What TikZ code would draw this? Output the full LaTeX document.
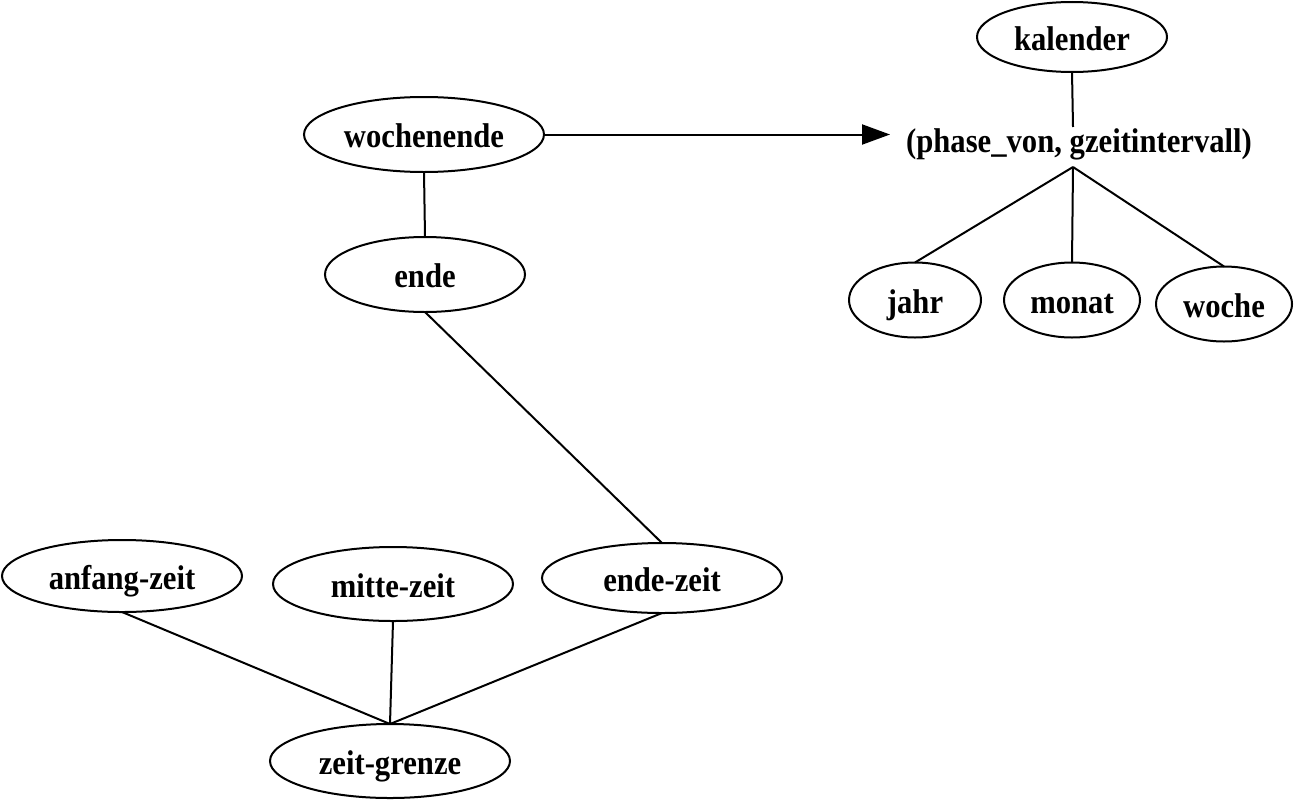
\documentclass[tikz,border=0pt]{standalone}
\usepackage{fontspec}
\setmainfont{Liberation Serif}
\usetikzlibrary{shapes.geometric,arrows.meta}
\newcommand\tall[1]{\scalebox{1}[1.12]{#1}}
\tikzset{
  lbl/.style={font=\bfseries\fontsize{23}{27}\selectfont, inner sep=0pt, outer sep=0pt,
              text height=21pt, text depth=1pt},
  ov/.style 2 args={lbl, ellipse, draw, line width=1.5pt,
              minimum width={2*#1*0.75pt}, minimum height={2*#2*0.75pt}},
  edge/.style={line width=1.5pt},
  arr/.style={edge, -{Triangle[length=21pt,width=15pt]}}
}
\begin{document}
\begin{tikzpicture}[x=0.75pt, y=-0.75pt]
  \useasboundingbox (0,0) rectangle (1294,803);

  % upper left chain
  \node[ov={120}{37.5}] (woch) at (424,134.5) {\tall{wochenende}};
  \node[ov={100}{37.5}] (ende) at (425,274.5) {\tall{ende}};

  % calendar group
  \node[ov={95}{35}] (kal) at (1072,37) {\tall{kalender}};
  \node[lbl] (phase) at (1079,139) {\tall{(phase\_von, gzeitintervall)}};
  \coordinate (phtop) at (1073,127);
  \coordinate (phbot) at (1073,167);
  \node[ov={66}{37.5}] (jahr) at (915,300) {\tall{jahr}};
  \node[ov={68}{37.5}] (monat) at (1072,300) {\tall{monat}};
  \node[ov={68}{37.5}] (woche) at (1224,304) {\tall{woche}};

  % time boundary group
  \node[ov={120}{36}] (anf) at (122,576) {\tall{anfang-zeit}};
  \node[ov={120}{37}] (mit) at (393,584) {\tall{mitte-zeit}};
  \node[ov={120}{35}] (endz) at (662,578) {\tall{ende-zeit}};
  \node[ov={120}{37}] (zg) at (390,761) {\tall{zeit-grenze}};

  % connectors
  \draw[arr] (woch.east) -- (woch.east -| 890,0);
  \draw[edge] (woch.south) -- (ende.north);
  \draw[edge] (ende.south) -- (endz.north);
  \draw[edge] (kal.south) -- (phtop);
  \draw[edge] (phbot) -- (jahr.north);
  \draw[edge] (phbot) -- (monat.north);
  \draw[edge] (phbot) -- (woche.north);
  \draw[edge] (anf.south) -- (zg.north);
  \draw[edge] (mit.south) -- (zg.north);
  \draw[edge] (endz.south) -- (zg.north);
\end{tikzpicture}
\end{document}
